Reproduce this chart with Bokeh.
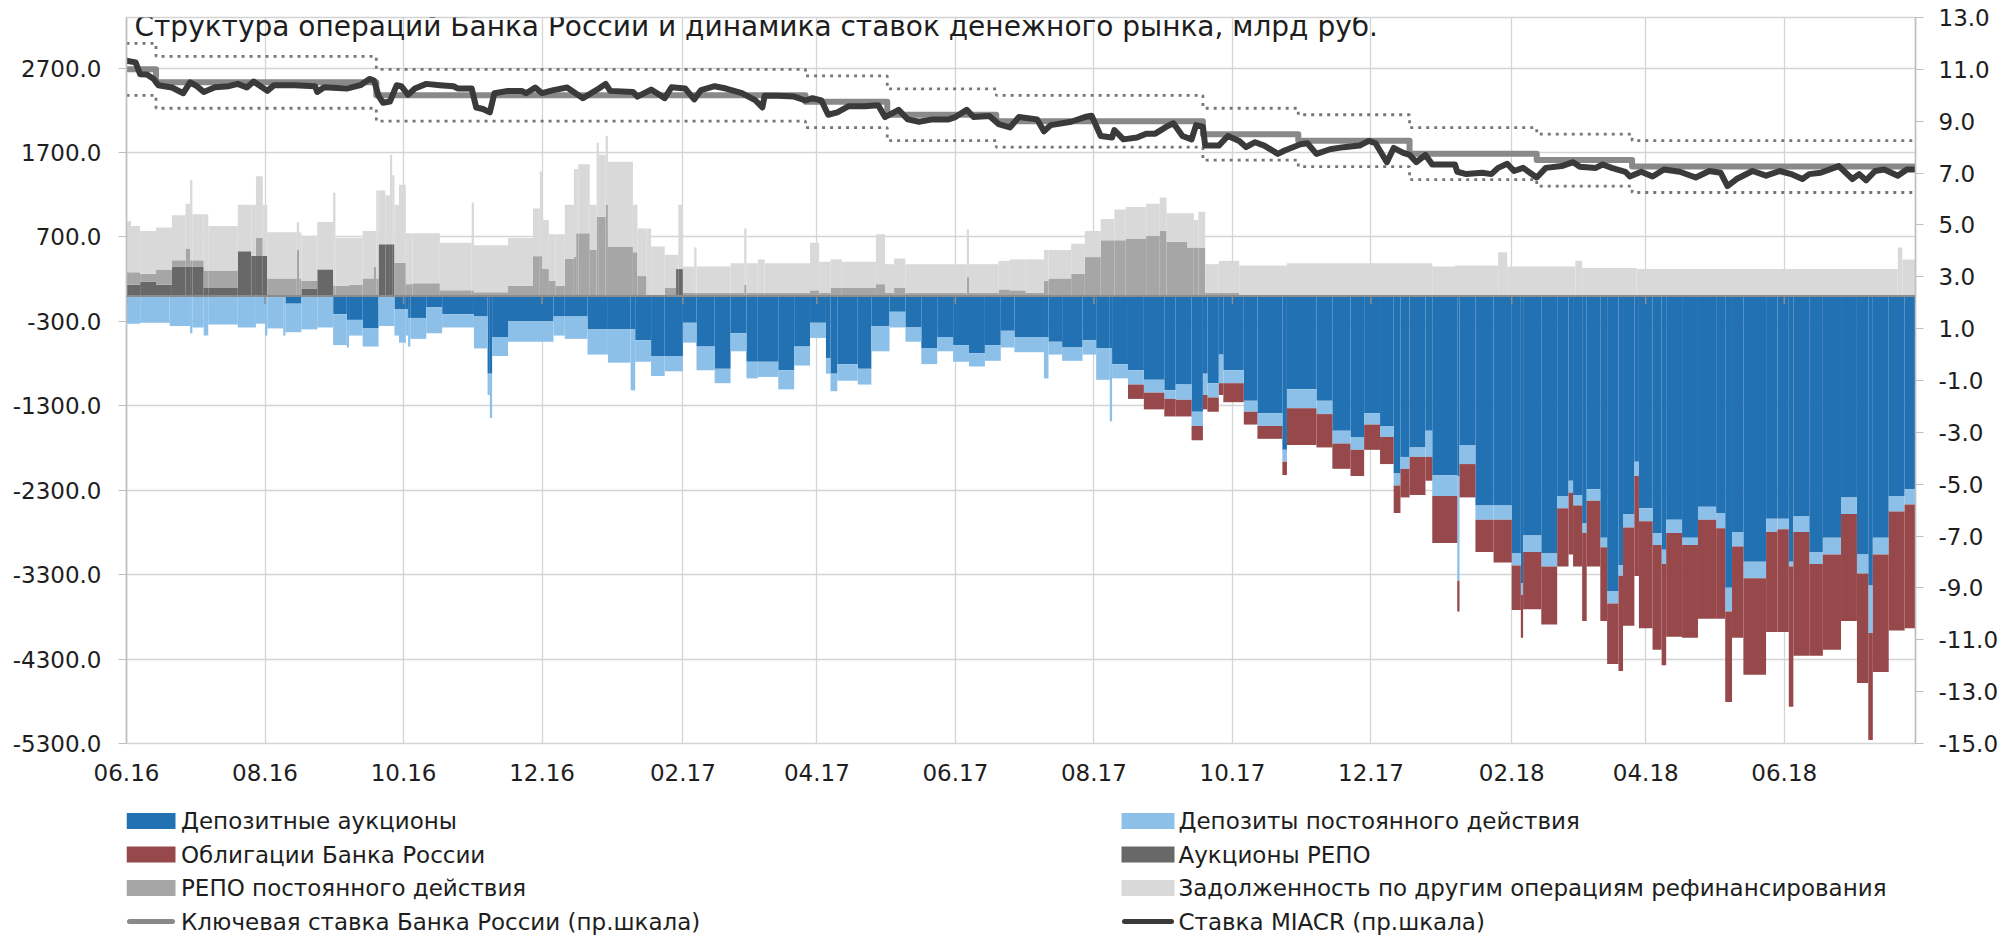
from datetime import datetime
import numpy as np
import pandas as pd
from bokeh.plotting import figure
from bokeh.layouts import column
from bokeh.models import (Range1d, LinearAxis, FixedTicker, ColumnDataSource, Span, Label)
from bokeh.core.properties import value
from bokeh.embed import file_html
from bokeh.resources import INLINE

TITLE = "Структура операций Банка России и динамика ставок денежного рынка, млрд руб."

# ---------------- axes / ticks ----------------
x_tick_dates = ["2016-06-01", "2016-08-01", "2016-10-01", "2016-12-01", "2017-02-01",
                "2017-04-01", "2017-06-01", "2017-08-01", "2017-10-01", "2017-12-01",
                "2018-02-01", "2018-04-01", "2018-06-01"]
x_tick_labels = ["06.16", "08.16", "10.16", "12.16", "02.17", "04.17", "06.17",
                 "08.17", "10.17", "12.17", "02.18", "04.18", "06.18"]
left_ticks = [-5300, -4300, -3300, -2300, -1300, -300, 700, 1700, 2700]
left_tick_labels = ["-5300.0", "-4300.0", "-3300.0", "-2300.0", "-1300.0", "-300.0",
                    "700.0", "1700.0", "2700.0"]
right_ticks = [-15, -13, -11, -9, -7, -5, -3, -1, 1, 3, 5, 7, 9, 11, 13]
right_tick_labels = ["-15.0", "-13.0", "-11.0", "-9.0", "-7.0", "-5.0", "-3.0", "-1.0",
                     "1.0", "3.0", "5.0", "7.0", "9.0", "11.0", "13.0"]
period_end = "2018-07-29"

# ---------------- liquidity provision (positive), bn RUB; value holds until next date ----------------
pos_dates = [
    "2016-06-01", "2016-06-03", "2016-06-07", "2016-06-14", "2016-06-21", "2016-06-27", "2016-06-29", "2016-06-30", "2016-07-05", "2016-07-07",
    "2016-07-20", "2016-07-26", "2016-07-28", "2016-07-31", "2016-08-02", "2016-08-15", "2016-08-16", "2016-08-17", "2016-08-24", "2016-08-31",
    "2016-09-01", "2016-09-07", "2016-09-13", "2016-09-18", "2016-09-19", "2016-09-20", "2016-09-23", "2016-09-25", "2016-09-26", "2016-09-27",
    "2016-09-29", "2016-10-02", "2016-10-05", "2016-10-17", "2016-10-31", "2016-11-01", "2016-11-16", "2016-11-27", "2016-11-30", "2016-12-01",
    "2016-12-04", "2016-12-07", "2016-12-11", "2016-12-15", "2016-12-16", "2016-12-17", "2016-12-22", "2016-12-25", "2016-12-26", "2016-12-29",
    "2016-12-30", "2017-01-10", "2017-01-12", "2017-01-16", "2017-01-18", "2017-01-24", "2017-01-29", "2017-01-30", "2017-02-01", "2017-02-06",
    "2017-02-07", "2017-02-22", "2017-02-28", "2017-03-01", "2017-03-06", "2017-03-09", "2017-03-29", "2017-04-02", "2017-04-07", "2017-04-12",
    "2017-04-27", "2017-05-01", "2017-05-05", "2017-05-10", "2017-06-06", "2017-06-07", "2017-06-20", "2017-06-25", "2017-07-02", "2017-07-10",
    "2017-07-12", "2017-07-22", "2017-07-28", "2017-08-04", "2017-08-10", "2017-08-15", "2017-08-24", "2017-08-30", "2017-09-02", "2017-09-11",
    "2017-09-14", "2017-09-16", "2017-09-19", "2017-09-25", "2017-10-04", "2017-10-25", "2017-12-28", "2018-01-07", "2018-01-26", "2018-01-30",
    "2018-03-01", "2018-03-04", "2018-03-28", "2018-07-21", "2018-07-23"]
repo_auction = [
    135, 135, 170, 135, 350, 350, 350, 350, 96, 96,
    530, 475, 475, 475, 0, 0, 0, 90, 316, 0,
    0, 0, 0, 0, 0, 615, 615, 615, 615, 0,
    0, 0, 0, 0, 0, 0, 0, 0, 0, 0,
    0, 0, 0, 0, 0, 0, 0, 0, 0, 0,
    0, 0, 0, 0, 0, 0, 320, 320, 0, 0,
    0, 0, 0, 0, 0, 0, 0, 0, 0, 0,
    0, 0, 0, 0, 0, 0, 0, 0, 0, 0,
    0, 0, 0, 0, 0, 0, 0, 0, 0, 0,
    0, 0, 0, 0, 0, 0, 0, 0, 0, 0,
    0, 0, 0, 0, 0]
repo_standing = [
    147, 147, 95, 181, 73, 214, 73, 73, 208, 208,
    0, 0, 213, 0, 209, 547, 209, 90, 0, 124,
    124, 135, 209, 350, 209, 0, 0, 0, 0, 395,
    395, 141, 152, 68, 68, 45, 124, 473, 473, 321,
    180, 124, 440, 462, 744, 744, 547, 941, 941, 1082,
    586, 519, 237, 10, 10, 96, 0, 0, 40, 40,
    40, 40, 135, 40, 40, 40, 68, 40, 96, 96,
    141, 40, 101, 40, 225, 40, 79, 68, 40, 180,
    209, 265, 462, 660, 660, 676, 716, 772, 643, 575,
    575, 575, 40, 40, 0, 0, 0, 0, 0, 0,
    0, 0, 0, 0, 0]
other_refi = [
    603, 547, 507, 496, 535, 530, 952, 547, 666, 525,
    552, 607, 732, 607, 546, 327, 546, 536, 563, 1099,
    564, 553, 563, 422, 1042, 636, 580, 1059, 817, 687,
    924, 603, 592, 563, 1042, 558, 564, 564, 1004, 581,
    553, 609, 642, 1043, 761, 817, 535, 874, 733, 818,
    1004, 563, 563, 790, 576, 394, 170, 762, 310, 535,
    310, 349, 665, 349, 394, 349, 563, 366, 338, 310,
    592, 338, 344, 338, 564, 338, 338, 366, 394, 367,
    338, 355, 310, 253, 366, 378, 378, 395, 338, 406,
    327, 423, 338, 377, 361, 389, 350, 361, 519, 350,
    417, 333, 321, 575, 434]

# ---------------- liquidity absorption (negative), bn RUB ----------------
neg_dates = [
    "2016-06-01", "2016-06-07", "2016-06-20", "2016-06-29", "2016-06-30", "2016-07-05", "2016-07-07", "2016-07-20", "2016-07-28", "2016-08-01",
    "2016-08-02", "2016-08-09", "2016-08-10", "2016-08-17", "2016-08-24", "2016-08-31", "2016-09-06", "2016-09-07", "2016-09-13", "2016-09-20",
    "2016-09-27", "2016-09-29", "2016-10-02", "2016-10-03", "2016-10-04", "2016-10-11", "2016-10-18", "2016-11-01", "2016-11-07", "2016-11-08",
    "2016-11-09", "2016-11-16", "2016-12-06", "2016-12-11", "2016-12-21", "2016-12-30", "2017-01-09", "2017-01-11", "2017-01-18", "2017-01-24",
    "2017-02-01", "2017-02-07", "2017-02-15", "2017-02-22", "2017-03-01", "2017-03-06", "2017-03-15", "2017-03-22", "2017-03-29", "2017-04-05",
    "2017-04-07", "2017-04-10", "2017-04-19", "2017-04-25", "2017-05-03", "2017-05-10", "2017-05-17", "2017-05-24", "2017-05-31", "2017-06-07",
    "2017-06-14", "2017-06-21", "2017-06-27", "2017-07-10", "2017-07-12", "2017-07-18", "2017-07-27", "2017-08-02", "2017-08-08", "2017-08-09",
    "2017-08-16", "2017-08-23", "2017-09-01", "2017-09-06", "2017-09-13", "2017-09-18", "2017-09-20", "2017-09-25", "2017-09-27", "2017-10-06",
    "2017-10-12", "2017-10-23", "2017-10-25", "2017-11-07", "2017-11-14", "2017-11-22", "2017-11-28", "2017-12-05", "2017-12-11", "2017-12-14",
    "2017-12-18", "2017-12-25", "2017-12-28", "2018-01-08", "2018-01-09", "2018-01-16", "2018-01-24", "2018-02-01", "2018-02-05", "2018-02-06",
    "2018-02-14", "2018-02-21", "2018-02-26", "2018-02-28", "2018-03-04", "2018-03-06", "2018-03-12", "2018-03-15", "2018-03-20", "2018-03-22",
    "2018-03-27", "2018-03-29", "2018-04-04", "2018-04-08", "2018-04-10", "2018-04-17", "2018-04-24", "2018-05-02", "2018-05-06", "2018-05-09",
    "2018-05-14", "2018-05-24", "2018-05-29", "2018-06-03", "2018-06-05", "2018-06-12", "2018-06-18", "2018-06-26", "2018-07-03", "2018-07-08",
    "2018-07-10", "2018-07-17", "2018-07-24"]
deposit_auction = [
    0, 0, 0, 0, 0, 0, 0, 0, 0, 0,
    0, 0, -90, 0, 0, -214, -282, -282, -383, 0,
    -158, -158, -158, -259, -259, -130, -214, -242, -919, -919,
    -485, -299, -242, -242, -395, -395, -395, -524, -710, -710,
    -316, -598, -862, -440, -778, -778, -879, -598, -316, -733,
    -919, -806, -862, -355, -186, -372, -620, -485, -581, -676,
    -581, -411, -485, -485, -541, -609, -524, -620, -620, -806,
    -879, -992, -1116, -1048, -1370, -919, -1032, -693, -879, -1240,
    -1387, -1821, -1105, -1240, -1595, -1669, -1387, -1539, -2103, -1905,
    -1793, -1595, -2120, -2131, -1764, -2480, -2480, -3050, -3399, -2835,
    -3050, -2368, -2187, -2356, -2694, -2289, -2864, -3495, -3185, -2582,
    -1962, -2514, -2807, -3005, -2649, -2864, -2497, -2570, -3455, -2796,
    -3146, -2638, -2638, -3146, -2610, -3033, -2864, -2385, -3061, -3427,
    -2864, -2368, -2289]
deposit_standing = [
    -327, -316, -355, -440, -372, -468, -338, -372, -327, -468,
    -383, -468, -338, -395, -372, -367, -327, -186, -215, -355,
    -310, -394, -310, -339, -248, -310, -158, -378, -253, -524,
    -225, -242, -226, -265, -298, -394, -721, -254, -237, -181,
    -236, -281, -170, -214, -197, -180, -226, -225, -180, -186,
    -208, -197, -186, -299, -186, -169, -186, -169, -197, -158,
    -186, -198, -180, -490, -152, -158, -169, -372, -863, -169,
    -169, -152, -102, -181, -169, -253, -169, -339, -153, -130,
    -152, -141, -225, -158, -152, -152, -135, -130, -141, -141,
    -112, -310, -248, -1240, -226, -169, -169, -141, -141, -198,
    -152, -146, -141, -124, -113, -135, -112, -146, -129, -158,
    -169, -152, -141, -169, -158, -84, -152, -181, -282, -169,
    -197, -158, -124, -56, -186, -141, -197, -197, -225, -564,
    -197, -185, -180]
cbr_bonds = [
    0, 0, 0, 0, 0, 0, 0, 0, 0, 0,
    0, 0, 0, 0, 0, 0, 0, 0, 0, 0,
    0, 0, 0, 0, 0, 0, 0, 0, 0, 0,
    0, 0, 0, 0, 0, 0, 0, 0, 0, 0,
    0, 0, 0, 0, 0, 0, 0, 0, 0, 0,
    0, 0, 0, 0, 0, 0, 0, 0, 0, 0,
    0, 0, 0, 0, 0, 0, 0, 0, 0, 0,
    -170, -198, -208, -197, -169, -170, -169, -140, -225, -152,
    -152, -158, -434, -395, -299, -310, -299, -321, -326, -339,
    -451, -282, -558, -366, -395, -384, -508, -529, -507, -676,
    -687, -688, -733, -722, -1043, -778, -874, -716, -1128, -1166,
    -1184, -1268, -1240, -1200, -1229, -1099, -1173, -1071, -1071, -1082,
    -1144, -1184, -1218, -1663, -1466, -1088, -1127, -1268, -1296, -1268,
    -1392, -1409, -1465]

# ---------------- rates, % (right axis) ----------------
key_rate_dates = ["2016-06-01", "2016-06-14", "2016-09-19", "2017-03-27", "2017-05-02", "2017-06-19",
                  "2017-09-18", "2017-10-30", "2017-12-18", "2018-02-12", "2018-03-26"]
key_rate = [11.0, 10.5, 10.0, 9.75, 9.25, 9.0, 8.5, 8.25, 7.75, 7.5, 7.25]
corridor_upper = [12.0, 11.5, 11.0, 10.75, 10.25, 10.0, 9.5, 9.25, 8.75, 8.5, 8.25]
corridor_lower = [10.0, 9.5, 9.0, 8.75, 8.25, 8.0, 7.5, 7.25, 6.75, 6.5, 6.25]

miacr_dates = [
    "2016-06-01", "2016-06-05", "2016-06-07", "2016-06-10", "2016-06-13", "2016-06-15", "2016-06-21", "2016-06-26", "2016-06-29", "2016-07-02",
    "2016-07-05", "2016-07-10", "2016-07-16", "2016-07-20", "2016-07-24", "2016-07-27", "2016-08-02", "2016-08-05", "2016-08-14", "2016-08-23",
    "2016-08-24", "2016-08-27", "2016-09-06", "2016-09-12", "2016-09-16", "2016-09-18", "2016-09-20", "2016-09-22", "2016-09-25", "2016-09-28",
    "2016-09-30", "2016-10-03", "2016-10-06", "2016-10-11", "2016-10-17", "2016-10-23", "2016-10-25", "2016-10-31", "2016-11-02", "2016-11-05",
    "2016-11-08", "2016-11-10", "2016-11-16", "2016-11-22", "2016-11-24", "2016-11-28", "2016-12-01", "2016-12-06", "2016-12-12", "2016-12-19",
    "2016-12-26", "2016-12-29", "2016-12-31", "2017-01-10", "2017-01-12", "2017-01-18", "2017-01-24", "2017-01-27", "2017-02-02", "2017-02-06",
    "2017-02-09", "2017-02-15", "2017-02-20", "2017-02-27", "2017-03-05", "2017-03-08", "2017-03-09", "2017-03-15", "2017-03-22", "2017-03-27",
    "2017-03-30", "2017-04-03", "2017-04-06", "2017-04-10", "2017-04-15", "2017-04-22", "2017-04-28", "2017-05-01", "2017-05-07", "2017-05-11",
    "2017-05-16", "2017-05-22", "2017-05-29", "2017-06-01", "2017-06-06", "2017-06-09", "2017-06-16", "2017-06-20", "2017-06-25", "2017-06-29",
    "2017-07-07", "2017-07-10", "2017-07-13", "2017-07-22", "2017-07-28", "2017-07-31", "2017-08-04", "2017-08-09", "2017-08-10", "2017-08-14",
    "2017-08-20", "2017-08-24", "2017-08-28", "2017-09-02", "2017-09-05", "2017-09-09", "2017-09-13", "2017-09-15", "2017-09-18", "2017-09-19",
    "2017-09-25", "2017-09-29", "2017-10-04", "2017-10-07", "2017-10-11", "2017-10-15", "2017-10-21", "2017-10-24", "2017-10-31", "2017-11-03",
    "2017-11-07", "2017-11-13", "2017-11-19", "2017-11-26", "2017-11-30", "2017-12-03", "2017-12-08", "2017-12-11", "2017-12-15", "2017-12-18",
    "2017-12-21", "2017-12-25", "2017-12-28", "2018-01-07", "2018-01-08", "2018-01-12", "2018-01-19", "2018-01-23", "2018-01-26", "2018-01-30",
    "2018-02-02", "2018-02-06", "2018-02-12", "2018-02-16", "2018-02-23", "2018-02-28", "2018-03-03", "2018-03-10", "2018-03-13", "2018-03-17",
    "2018-03-23", "2018-03-25", "2018-03-30", "2018-04-04", "2018-04-09", "2018-04-16", "2018-04-23", "2018-04-29", "2018-05-04", "2018-05-07",
    "2018-05-11", "2018-05-18", "2018-05-24", "2018-05-30", "2018-06-04", "2018-06-09", "2018-06-12", "2018-06-17", "2018-06-25", "2018-07-01",
    "2018-07-04", "2018-07-07", "2018-07-11", "2018-07-15", "2018-07-21", "2018-07-25", "2018-07-28"]
miacr = [
    11.33, 11.27, 10.81, 10.80, 10.63, 10.39, 10.30, 10.08, 10.50, 10.35,
    10.13, 10.31, 10.35, 10.44, 10.30, 10.53, 10.17, 10.39, 10.39, 10.35,
    10.13, 10.31, 10.26, 10.39, 10.63, 10.57, 9.98, 9.71, 9.76, 10.39,
    10.35, 10.02, 10.26, 10.44, 10.39, 10.35, 10.26, 10.26, 9.53, 9.47,
    9.34, 10.08, 10.17, 10.17, 10.08, 10.30, 10.08, 10.20, 10.30, 9.89,
    10.26, 10.44, 10.17, 10.13, 9.95, 10.22, 9.89, 10.31, 10.26, 9.84,
    10.20, 10.35, 10.26, 10.08, 9.80, 9.53, 9.98, 9.98, 9.95, 9.80,
    9.89, 9.80, 9.25, 9.34, 9.58, 9.58, 9.62, 9.16, 9.44, 9.07,
    8.98, 9.07, 9.07, 9.16, 9.44, 9.16, 9.20, 8.89, 8.76, 9.16,
    9.07, 8.61, 8.85, 8.98, 9.16, 9.21, 8.43, 8.37, 8.66, 8.30,
    8.37, 8.52, 8.52, 8.79, 8.92, 8.43, 8.30, 8.85, 8.79, 8.06,
    8.06, 8.43, 8.24, 8.00, 8.19, 8.06, 7.74, 7.87, 8.11, 8.15,
    7.74, 7.92, 8.00, 8.06, 8.24, 8.15, 7.42, 7.97, 7.79, 7.70,
    7.42, 7.70, 7.33, 7.33, 7.05, 6.96, 7.01, 6.96, 7.20, 7.36,
    7.08, 7.20, 6.83, 7.20, 7.27, 7.42, 7.24, 7.20, 7.33, 7.20,
    7.05, 6.87, 7.05, 6.87, 7.14, 7.05, 6.83, 7.08, 7.01, 6.50,
    6.77, 7.08, 6.90, 7.08, 6.96, 6.77, 6.96, 7.01, 7.27, 6.77,
    6.96, 6.72, 7.08, 7.14, 6.90, 7.14, 7.14]

# ---------------- legend texts ----------------
legend_left_keys = ["dep_auc", "bonds", "repo_std", "key"]
legend_left_labels = ["Депозитные аукционы", "Облигации Банка России",
                      "РЕПО постоянного действия", "Ключевая ставка Банка России (пр.шкала)"]
legend_right_keys = ["dep_std", "repo_auc", "other", "miacr"]
legend_right_labels = ["Депозиты постоянного действия", "Аукционы РЕПО",
                       "Задолженность по другим операциям рефинансирования", "Ставка MIACR (пр.шкала)"]

# ---------------- styling ----------------
FONT = "DejaVu Sans"
TXT = "#1e1e1e"
GRID = "#d4d4d4"
STYLE = {
    "dep_auc": ("bar", "#2271b3"), "dep_std": ("bar", "#8dc0e8"), "bonds": ("bar", "#96484a"),
    "repo_auc": ("bar", "#686868"), "repo_std": ("bar", "#a6a6a6"), "other": ("bar", "#d9d9d9"),
    "key": ("line", "#898989"), "miacr": ("line", "#3a3a3a"),
}
C_CORR = "#777777"

W = 2009
H_MAIN = 790
H_LEG = 935 - H_MAIN
FR_L, FR_R, FR_T, FR_B = 126, 1915, 17, 743   # plot-area edges on the canvas

x_start = datetime(2016, 6, 1)
x_end = datetime(2018, 7, 28, 19)
Y_MIN, Y_MAX = -5300, 3300

p = figure(width=W, height=H_MAIN, x_axis_type="datetime",
           x_range=Range1d(x_start, x_end), y_range=Range1d(Y_MIN, Y_MAX),
           output_backend="svg", toolbar_location=None,
           min_border_left=FR_L, min_border_right=W - FR_R, min_border_top=FR_T,
           min_border_bottom=H_MAIN - FR_B,
           background_fill_color="white", border_fill_color="white")
p.outline_line_color = GRID
p.outline_line_width = 1.5
p.extra_y_ranges = {"r": Range1d(-15, 13)}

def to_dt(lst):
    return pd.to_datetime(pd.Series(lst)).values

# ----- stacked bars -----
def stack(dates, layers):
    left = to_dt(dates)
    right = to_dt(list(dates[1:]) + [period_end])
    base = np.zeros(len(dates))
    for vals, key in layers:
        v = np.asarray(vals, dtype=float)
        nxt = base + v
        m = v != 0
        src = ColumnDataSource(dict(left=left[m], right=right[m],
                                    bottom=np.minimum(base, nxt)[m], top=np.maximum(base, nxt)[m]))
        p.quad(left="left", right="right", bottom="bottom", top="top",
               source=src, fill_color=STYLE[key][1], line_color=None)
        base = nxt

stack(pos_dates, [(repo_auction, "repo_auc"), (repo_standing, "repo_std"), (other_refi, "other")])
stack(neg_dates, [(deposit_auction, "dep_auc"), (deposit_standing, "dep_std"), (cbr_bonds, "bonds")])

# zero axis line with small ticks
p.add_layout(Span(location=0, dimension="width", line_color="#8c8c8c", line_width=2))
tick_len = 8 * (Y_MAX - Y_MIN) / float(FR_B - FR_T)
tx = to_dt(x_tick_dates)
p.segment(x0=tx, y0=np.zeros(len(tx)), x1=tx, y1=np.full(len(tx), -tick_len),
          line_color="#8c8c8c", line_width=1.5)

# ----- rate lines -----
rx = to_dt(key_rate_dates + [period_end])
def ext(v):
    return list(v) + [v[-1]]

p.step(x=rx, y=ext(corridor_upper), mode="after", y_range_name="r",
       line_color=C_CORR, line_width=2.8, line_dash="3 5")
p.step(x=rx, y=ext(corridor_lower), mode="after", y_range_name="r",
       line_color=C_CORR, line_width=2.8, line_dash="3 5")
p.step(x=rx, y=ext(key_rate), mode="after", y_range_name="r",
       line_color=STYLE["key"][1], line_width=6, line_join="round")
p.line(x=to_dt(miacr_dates), y=miacr, y_range_name="r",
       line_color=STYLE["miacr"][1], line_width=6, line_join="round", line_cap="round")

# ----- axes -----
xt = FixedTicker(ticks=[float(pd.Timestamp(d).value // 10**6) for d in x_tick_dates])
p.xaxis.ticker = xt
p.xgrid.ticker = xt
p.xaxis.major_label_overrides = {float(pd.Timestamp(d).value // 10**6): l
                                 for d, l in zip(x_tick_dates, x_tick_labels)}
p.xaxis.axis_line_color = None
p.xaxis.major_tick_line_color = None
p.xaxis.minor_tick_line_color = None
p.xaxis.major_label_standoff = 14
p.xaxis.major_label_text_font = FONT
p.xaxis.major_label_text_font_size = "23px"
p.xaxis.major_label_text_color = TXT

yt = FixedTicker(ticks=left_ticks)
ly = p.yaxis[0]
ly.ticker = yt
p.ygrid.ticker = yt
ly.major_label_overrides = dict(zip(left_ticks, left_tick_labels))
ly.axis_line_color = "#bfbfbf"
ly.axis_line_width = 1.5
ly.major_tick_line_color = "#bfbfbf"
ly.major_tick_out = 8
ly.major_tick_in = 0
ly.minor_tick_line_color = None
ly.major_label_standoff = 17
ly.major_label_text_font = FONT
ly.major_label_text_font_size = "23px"
ly.major_label_text_color = TXT

ry = LinearAxis(y_range_name="r", ticker=FixedTicker(ticks=right_ticks),
                major_label_overrides=dict(zip(right_ticks, right_tick_labels)))
ry.axis_line_color = "#bfbfbf"
ry.axis_line_width = 1.5
ry.major_tick_line_color = "#bfbfbf"
ry.major_tick_out = 8
ry.major_tick_in = 0
ry.minor_tick_line_color = None
ry.major_label_standoff = 15
ry.major_label_text_font = FONT
ry.major_label_text_font_size = "23px"
ry.major_label_text_color = TXT
p.add_layout(ry, "right")

p.xgrid.grid_line_color = GRID
p.xgrid.grid_line_width = 1.3
p.ygrid.grid_line_color = GRID
p.ygrid.grid_line_width = 1.3

# ----- title at the very top -----
p.add_layout(Label(x=8, y=(FR_B - 26), x_units="screen", y_units="screen", text=TITLE,
                   text_font=FONT, text_font_size="28px", text_color=TXT,
                   text_baseline="alphabetic"))

# ----- legend strip (pixel-mapped ranges: x = canvas x, y = px from its top) -----
lg = figure(width=W, height=H_LEG, x_range=Range1d(FR_L, FR_R), y_range=Range1d(H_LEG, 0),
            output_backend="svg", toolbar_location=None,
            x_axis_location=None, y_axis_location=None,
            min_border_left=FR_L, min_border_right=W - FR_R, min_border_top=0, min_border_bottom=0,
            background_fill_color="white", border_fill_color="white")
lg.title.visible = False
lg.grid.visible = False
lg.outline_line_color = None

ROW_Y = [30.5, 64.0, 97.5, 131.0]
COLS = [(legend_left_keys, legend_left_labels, FR_L, 175, 180.5),
        (legend_right_keys, legend_right_labels, 1121, 1174, 1178)]
for keys, labels, sx0, sx1, tx0 in COLS:
    for k, yy in zip(keys, ROW_Y):
        kind, color = STYLE[k]
        if kind == "bar":
            lg.quad(left=[sx0], right=[sx1], top=[yy - 8], bottom=[yy + 8],
                    fill_color=color, line_color=None)
        else:
            lg.segment(x0=[sx0 + 3], x1=[sx1 - 3], y0=[yy], y1=[yy],
                       line_color=color, line_width=5, line_cap="round")
    lg.text(x=[tx0] * len(labels), y=ROW_Y[:len(labels)], text=labels,
            text_font=value(FONT), text_font_size=value("23px"), text_color=TXT,
            text_baseline="middle", text_align="left")

open("out.html", "w").write(file_html(column(p, lg, spacing=0), INLINE))
